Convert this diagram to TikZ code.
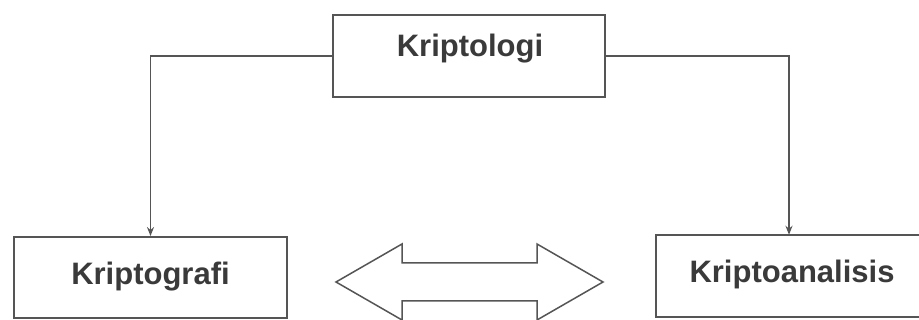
\documentclass[tikz,border=0pt]{standalone}
\usepackage{fontspec}
\setmainfont{Liberation Sans}
\usetikzlibrary{arrows.meta}
\definecolor{inkline}{HTML}{555555}
\definecolor{inktext}{HTML}{3A3A3A}
\begin{document}
\begin{tikzpicture}[x=1pt,y=-1pt,
  box/.style={draw=inkline,line width=1.9pt,rectangle,inner sep=0pt},
  lbl/.style={text=inktext,font=\fontsize{31}{31}\selectfont\bfseries,inner sep=0pt,anchor=base},
  link/.style={draw=inkline,line width=1.5pt,-{Stealth[length=9pt,width=7pt]}},
  twoway/.style={draw=inkline,line width=1.5pt,line join=miter,fill=white}]
  \useasboundingbox (0,0) rectangle (919,320);
  \fill[white] (0,0) rectangle (919,320);

  % boxes; the right one is cut by the page edge, so only three sides show
  \node[box,minimum width=272pt,minimum height=82pt] (klog) at (469,56) {};
  \node[box,minimum width=273pt,minimum height=81pt] (kgraf) at (150.5,277.5) {};
  \node[inner sep=0pt,minimum width=263pt,minimum height=82pt] (kana) at (787.5,276) {};
  \draw[draw=inkline,line width=1.9pt]
    (kana.north east) -- (kana.north west) -- (kana.south west) -- (kana.south east);
  \coordinate (kanain) at (kana.north -| 789,0);

  % labels
  \node[lbl] (tlog) at (470,57) {Kriptologi};
  \node[lbl] (tgraf) at (150.5,285) {Kriptografi};
  \node[lbl] (tana) at (792,283) {Kriptoanalisis};

  % connectors
  \draw[link] (klog.west) -| (kgraf.north);
  \draw[link] (klog.east) -| (kanain);

  % two-headed block arrow between the lower boxes
  \draw[twoway] (336,282) -- (402,244) -- (402,263) -- (537,263) -- (537,244)
    -- (603,282) -- (537,320) -- (537,301) -- (402,301) -- (402,320) -- cycle;
\end{tikzpicture}
\end{document}
